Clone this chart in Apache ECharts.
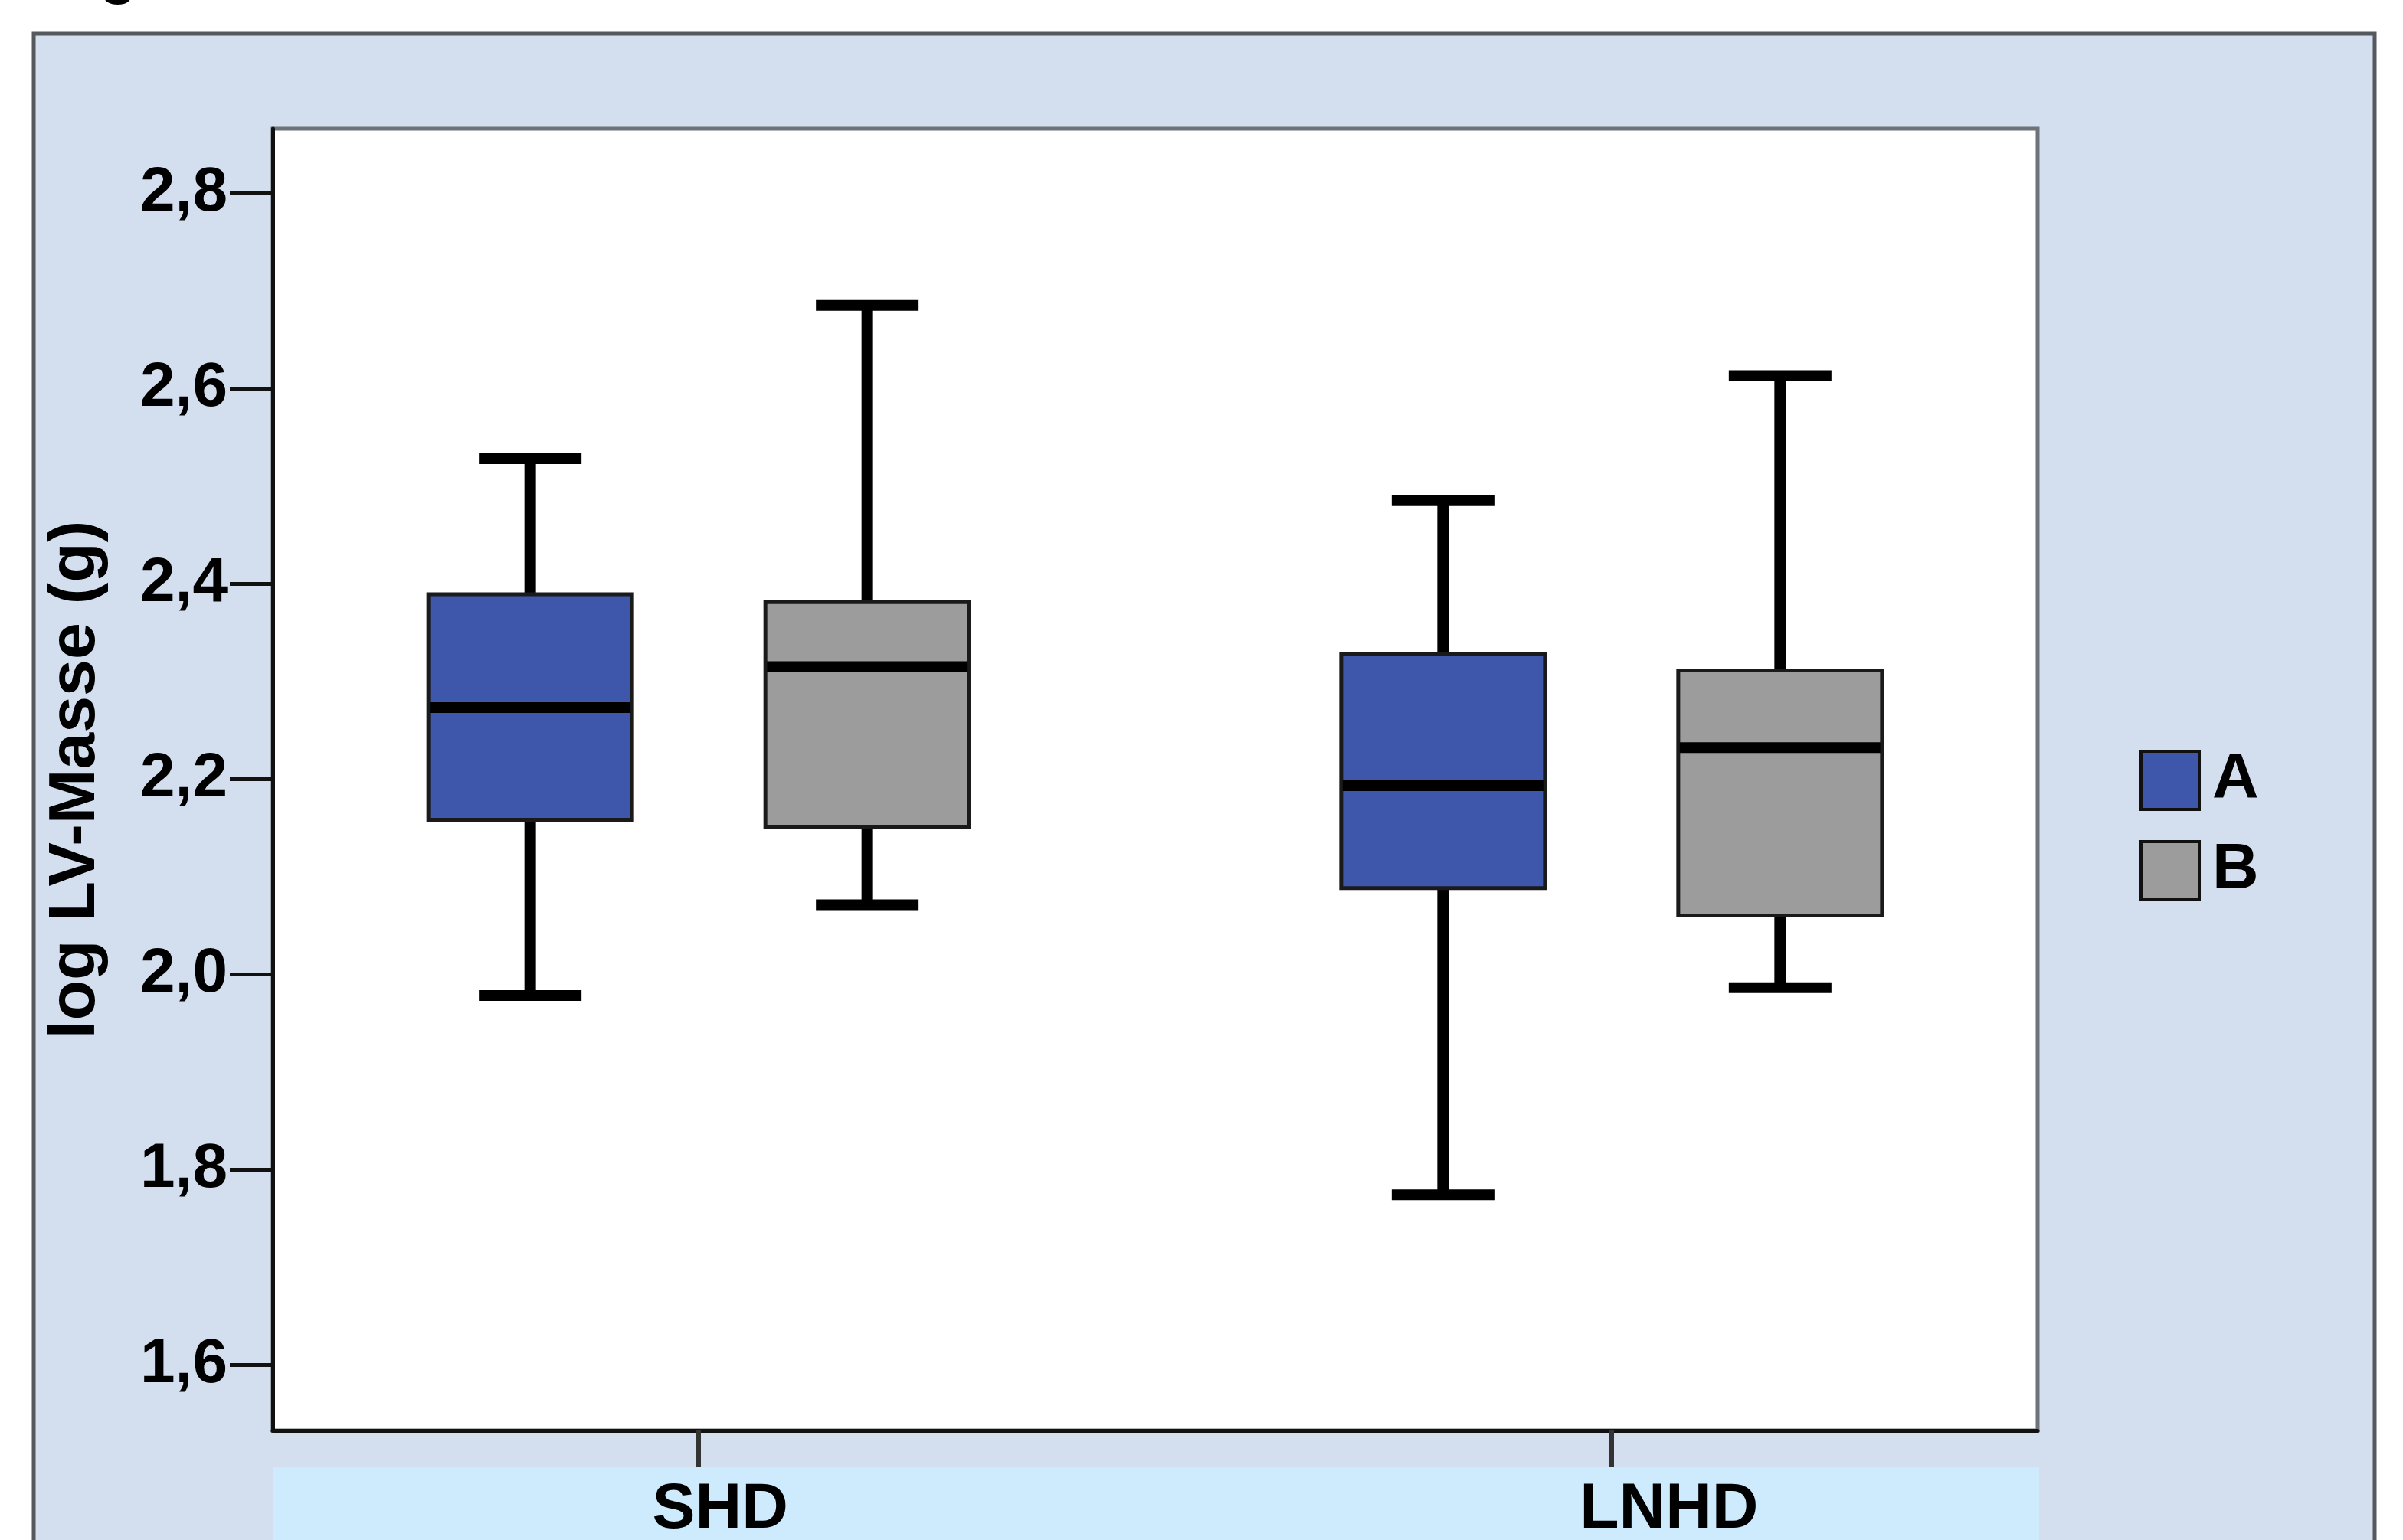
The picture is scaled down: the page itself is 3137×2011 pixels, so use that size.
<!DOCTYPE html>
<html><head><meta charset="utf-8">
<script src="https://cdn.jsdelivr.net/npm/echarts@6/dist/echarts.min.js"></script>
<style>html,body{margin:0;padding:0;background:#fff;overflow:hidden}#c{width:3137px;height:2011px}</style>
</head><body><div id="c"></div>
<script>
// ---- data ----
const categories = ['SHD', 'LNHD'];
const seriesNames = ['A', 'B'];
// per category: [min, Q1, median, Q3, max]
const valuesA = [
  [1.978, 2.158, 2.273, 2.389, 2.528],
  [1.774, 2.088, 2.193, 2.328, 2.485]
];
const valuesB = [
  [2.071, 2.151, 2.315, 2.381, 2.685],
  [1.986, 2.060, 2.232, 2.311, 2.613]
];
const yTicks = [1.6, 1.8, 2.0, 2.2, 2.4, 2.6, 2.8];
const catTicks = [0, 1];

const FONT = 'Liberation Sans';
const colorA = '#3e57ab';
const colorB = '#9c9c9c';

function makeRender(offsetPx) {
  return function (params, api) {
    const x = api.value(0);
    const pMin = api.coord([x, api.value(1)]);
    const pQ1 = api.coord([x, api.value(2)]);
    const pMed = api.coord([x, api.value(3)]);
    const pQ3 = api.coord([x, api.value(4)]);
    const pMax = api.coord([x, api.value(5)]);
    const cx = pMin[0] + offsetPx;
    const bw = 266, cw = 134;
    const fill = api.visual('color');
    return {
      type: 'group',
      children: [
        { type: 'line', shape: { x1: cx, y1: pMax[1], x2: cx, y2: pQ3[1] }, style: { stroke: '#000', lineWidth: 15 } },
        { type: 'line', shape: { x1: cx, y1: pQ1[1], x2: cx, y2: pMin[1] }, style: { stroke: '#000', lineWidth: 15 } },
        { type: 'line', shape: { x1: cx - cw / 2, y1: pMax[1], x2: cx + cw / 2, y2: pMax[1] }, style: { stroke: '#000', lineWidth: 14 } },
        { type: 'line', shape: { x1: cx - cw / 2, y1: pMin[1], x2: cx + cw / 2, y2: pMin[1] }, style: { stroke: '#000', lineWidth: 14 } },
        { type: 'rect', shape: { x: cx - bw / 2, y: pQ3[1], width: bw, height: pQ1[1] - pQ3[1] }, style: { fill: fill, stroke: '#1a1a1a', lineWidth: 5 } },
        { type: 'line', shape: { x1: cx - bw / 2 + 2, y1: pMed[1], x2: cx + bw / 2 - 2, y2: pMed[1] }, style: { stroke: '#000', lineWidth: 14 } }
      ]
    };
  };
}

const chart = echarts.init(document.getElementById('c'), null, { renderer: 'canvas' });
chart.setOption({
  animation: false,
  backgroundColor: '#ffffff',
  textStyle: { fontFamily: FONT },
  graphic: [
    { type: 'rect', z: -5, shape: { x: 44, y: 44, width: 3056, height: 2100 },
      style: { fill: '#d3dfee', stroke: '#55595e', lineWidth: 5 } },
    { type: 'rect', z: -4, shape: { x: 356, y: 1916, width: 2306, height: 120 },
      style: { fill: '#cdebfd' } },
    { type: 'text', z: -3, x: 130, y: -33,
      style: { text: 'g', font: 'bold 80px "Liberation Sans"', fill: '#000', verticalAlign: 'middle' } }
  ],
  grid: {
    left: 356, top: 168, width: 2304, height: 1700,
    outerBoundsMode: 'none', containLabel: false,
    show: true, backgroundColor: '#ffffff', borderColor: '#6d7378', borderWidth: 5
  },
  legend: {
    left: 2788, top: 972, orient: 'vertical',
    itemWidth: 76, itemHeight: 76, itemGap: 34,
    icon: 'rect',
    itemStyle: { borderColor: '#111', borderWidth: 4 },
    textStyle: { fontSize: 84, fontWeight: 'bold', color: '#000', fontFamily: FONT, padding: [26, 0, 0, 12] },
    data: seriesNames
  },
  xAxis: {
    type: 'value', min: -0.4667, max: 1.4667,
    axisLine: { show: true, onZero: false, lineStyle: { color: '#111', width: 5 } },
    axisTick: { show: true, customValues: catTicks, length: 48, lineStyle: { color: '#333', width: 6 } },
    axisLabel: {
      customValues: catTicks,
      formatter: function (v) { const i = Math.round(v); return '{c' + i + '|' + categories[i] + '}'; },
      fontSize: 84, fontWeight: 'bold', color: '#000', fontFamily: FONT, margin: 62,
      rich: {
        c0: { fontSize: 84, fontWeight: 'bold', color: '#000', fontFamily: FONT, padding: [0, 0, 0, 56] },
        c1: { fontSize: 84, fontWeight: 'bold', color: '#000', fontFamily: FONT, padding: [0, 0, 0, 150] }
      }
    },
    splitLine: { show: false }
  },
  yAxis: {
    type: 'value', min: 1.5325, max: 2.866,
    name: 'log LV-Masse (g)', nameLocation: 'middle', nameGap: 214,
    nameTextStyle: { fontSize: 86, fontWeight: 'bold', color: '#000', fontFamily: FONT },
    axisLine: { show: true, onZero: false, lineStyle: { color: '#111', width: 5 } },
    axisTick: { show: true, customValues: yTicks, length: 56, lineStyle: { color: '#111', width: 5 } },
    axisLabel: {
      customValues: yTicks,
      formatter: function (v) { return v.toFixed(1).replace('.', ','); },
      fontSize: 82, fontWeight: 'bold', color: '#000', fontFamily: FONT, margin: 59,
      padding: [28, 0, 0, 0]
    },
    splitLine: { show: false }
  },
  series: [
    {
      name: seriesNames[0], type: 'custom', itemStyle: { color: colorA },
      renderItem: makeRender(-220),
      data: valuesA.map(function (v, i) { return [i].concat(v); }),
      encode: { x: 0, y: [1, 2, 3, 4, 5] }
    },
    {
      name: seriesNames[1], type: 'custom', itemStyle: { color: colorB },
      renderItem: makeRender(220),
      data: valuesB.map(function (v, i) { return [i].concat(v); }),
      encode: { x: 0, y: [1, 2, 3, 4, 5] }
    }
  ]
});
</script></body></html>
